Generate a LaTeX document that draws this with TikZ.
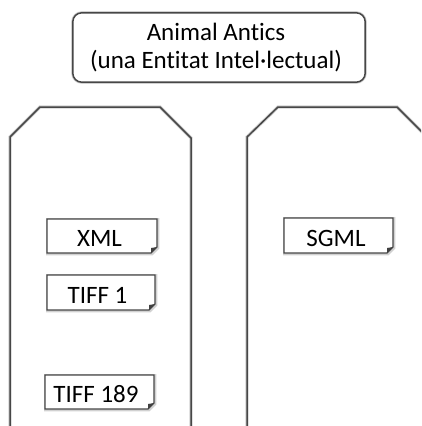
\documentclass[tikz,border=0pt]{standalone}
\usepackage{fontspec}
\setmainfont{Carlito}[RawFeature=-liga]
\begin{document}
\begin{tikzpicture}[x=1pt,y=-1pt,
  outline/.style={draw=black!72,line width=1.5pt,line join=miter},
  halo/.style={draw=black!18,line width=3.2pt,shift={(0.8,0.8)}},
  label/.style={font=\fontsize{25}{28}\selectfont,inner sep=0pt,text=black},
  doctext/.style={font=\fontsize{25}{28}\selectfont,inner sep=0pt,anchor=base,text=black},
  fold/.style={fill=black!75,draw=none}]
\useasboundingbox (0,0) rectangle (421,426);
\clip (0,0) rectangle (421,426);

% title box
\node[minimum width=292pt,minimum height=69pt,inner sep=0pt] (title) at (219,47.5) {};
\draw[halo,rounded corners=9pt] (title.north west) rectangle (title.south east);
\draw[outline,fill=white,rounded corners=9pt] (title.north west) rectangle (title.south east);
\node[label,align=center] (titletext) at (216,47.5) {Animal Antics\\(una Entitat Intel·lectual)};

% two open-bottomed containers
\coordinate (L0) at (10,440);  \coordinate (L1) at (10,137);
\coordinate (L2) at (40,107);  \coordinate (L3) at (160,107);
\coordinate (L4) at (191,138); \coordinate (L5) at (191,440);
\draw[halo] (L0) -- (L1) -- (L2) -- (L3) -- (L4) -- (L5);
\draw[outline] (L0) -- (L1) -- (L2) -- (L3) -- (L4) -- (L5);

\coordinate (R0) at (247,440); \coordinate (R1) at (247,137);
\coordinate (R2) at (278,107); \coordinate (R3) at (397,107);
\coordinate (R4) at (428,138); \coordinate (R5) at (428,440);
\draw[halo] (R0) -- (R1) -- (R2) -- (R3) -- (R4) -- (R5);
\draw[outline] (R0) -- (R1) -- (R2) -- (R3) -- (R4) -- (R5);

% document boxes: name, left, top, right, bottom, text, text x
\newcommand{\docbox}[7]{%
  \coordinate (#1-nw) at (#2,#3);
  \coordinate (#1-ne) at (#4,#3);
  \coordinate (#1-se) at (#4,#5);
  \coordinate (#1-sw) at (#2,#5);
  \draw[halo] (#2,#3) -- (#4,#3) -- (#4,#5-6) -- (#4-6,#5) -- (#2,#5) -- cycle;
  \draw[outline,fill=white,line width=1.4pt] (#2,#3) -- (#4,#3) -- (#4,#5-6) -- (#4-6,#5) -- (#2,#5) -- cycle;
  \fill[fold] (#4,#5-6) -- (#4-6,#5) -- (#4-6,#5-5) to[bend left=10] cycle;
  \node[doctext] (#1) at (#7,#5-7) {#6};
}
\docbox{xml}{47}{219}{157}{253}{XML}{99.5}
\docbox{tiffa}{47}{275}{155}{310}{TIFF 1}{97.5}
\docbox{tiffb}{45}{375}{154}{409}{TIFF 189}{96}
\docbox{sgml}{284}{218}{393}{253}{SGML}{336}
\end{tikzpicture}
\end{document}
